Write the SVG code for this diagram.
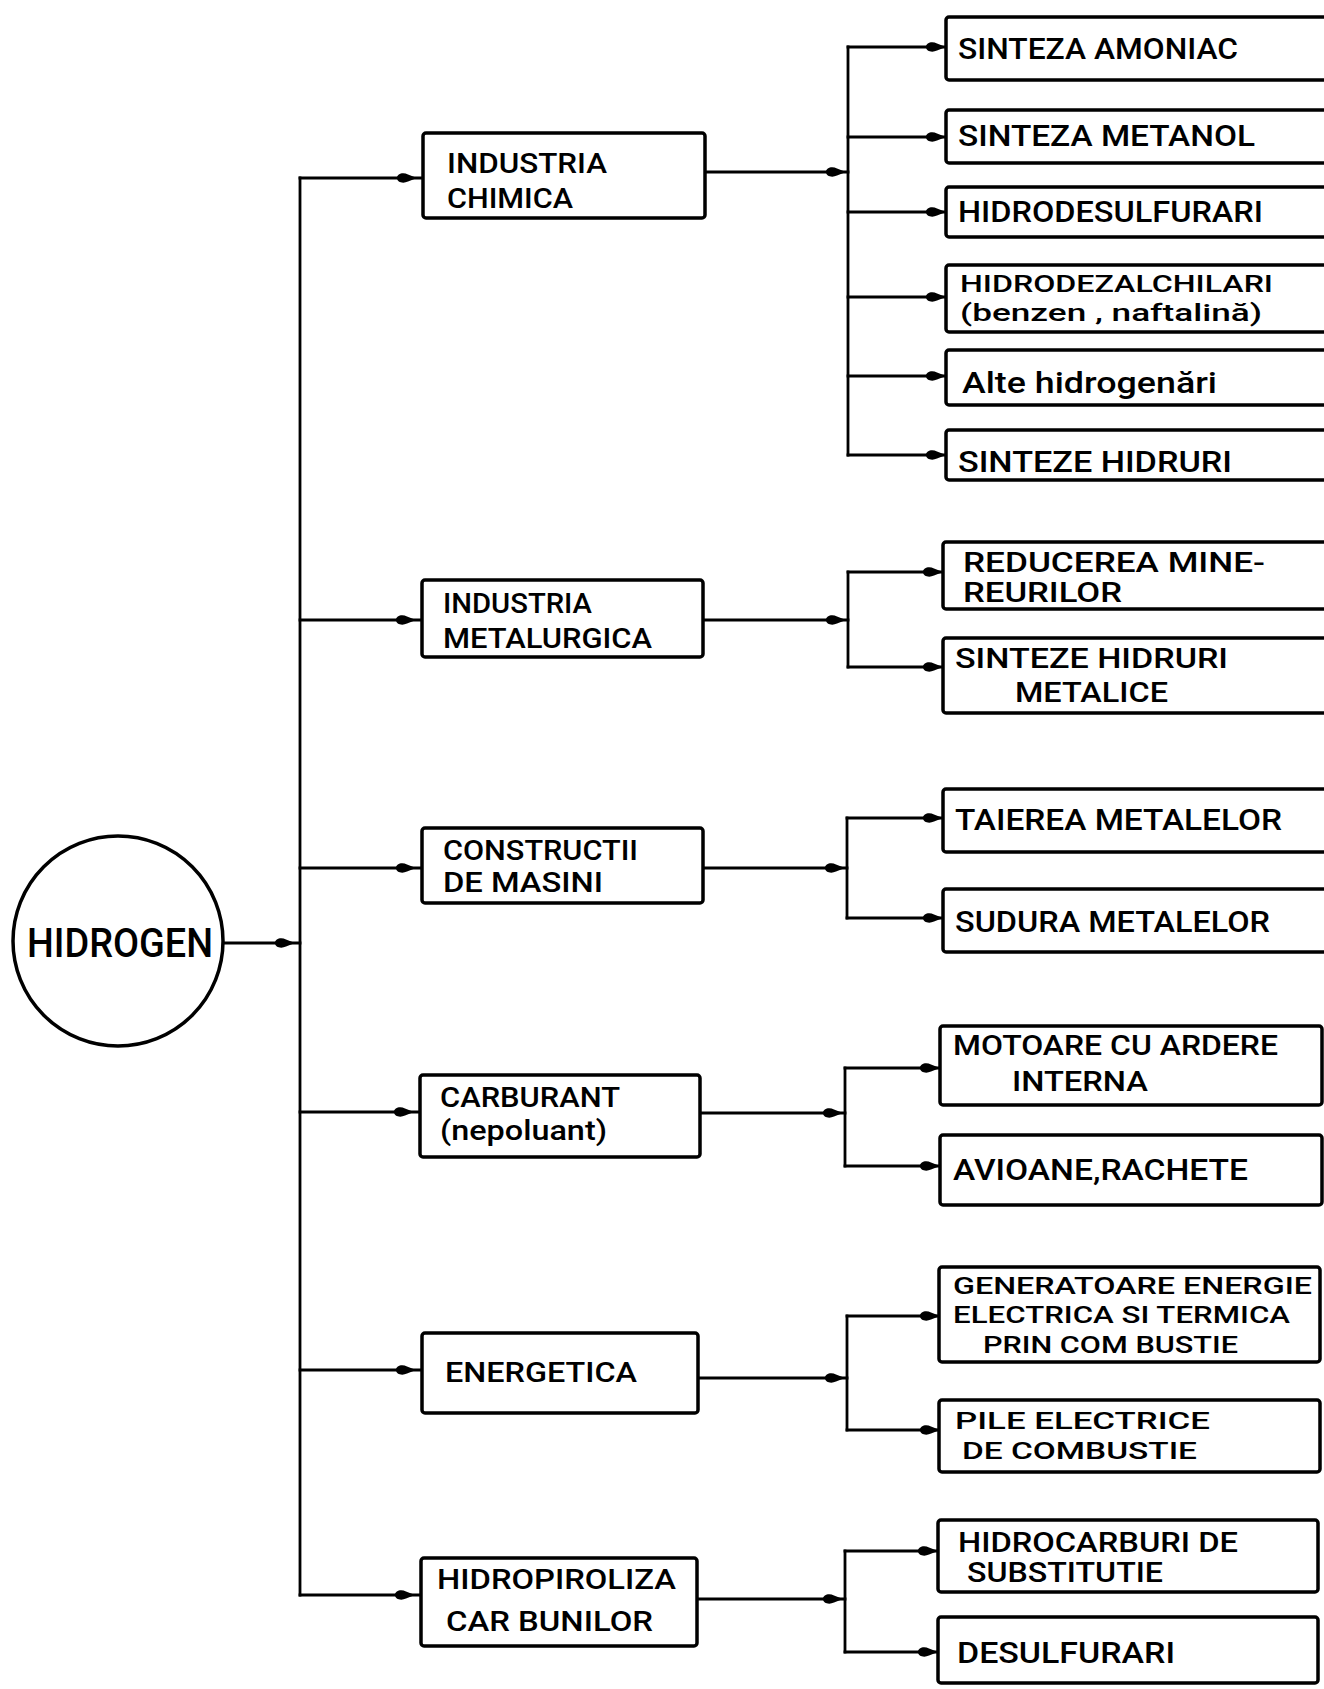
<svg xmlns="http://www.w3.org/2000/svg" xmlns:xlink="http://www.w3.org/1999/xlink" width="1324" height="1689" viewBox="0 0 1324 1689">
<style>
.bg{fill:#fff}
.box{fill:#fff;stroke:#000;stroke-width:3.5}
.ln{fill:none;stroke:#000;stroke-width:2.8;stroke-linecap:square}
.t{font-family:Roboto,"Liberation Sans",Arial,sans-serif;font-weight:500;fill:#000}
.m{font-size:28px}
.c{font-size:30px}
.c2{font-size:27px}
.c3{font-size:23px}
</style>
<defs>
<path id="ah" d="M1,0 L-8,-3.5 C-13,-6 -19,-4.2 -19,0 C-19,4.2 -13,6 -8,3.5 Z" fill="#000"/>
</defs>
<rect class="bg" x="0" y="0" width="1324" height="1689"/>

<g id="connectors">
  <!-- root to main bus -->
  <path class="ln" d="M223,943 H300"/>
  <use xlink:href="#ah" x="294" y="943"/>
  <path class="ln" d="M300,178 V1595"/>
  <!-- bus to middle boxes -->
  <path class="ln" d="M300,178 H423"/><use xlink:href="#ah" x="416" y="178"/>
  <path class="ln" d="M300,620 H422"/><use xlink:href="#ah" x="415" y="620"/>
  <path class="ln" d="M300,868 H422"/><use xlink:href="#ah" x="415" y="868"/>
  <path class="ln" d="M300,1112 H420"/><use xlink:href="#ah" x="413" y="1112"/>
  <path class="ln" d="M300,1370 H422"/><use xlink:href="#ah" x="415" y="1370"/>
  <path class="ln" d="M300,1595 H421"/><use xlink:href="#ah" x="414" y="1595"/>
  <!-- middle to sub-buses -->
  <path class="ln" d="M705,172 H848"/><use xlink:href="#ah" x="845" y="172"/>
  <path class="ln" d="M703,620 H848"/><use xlink:href="#ah" x="845" y="620"/>
  <path class="ln" d="M703,868 H847"/><use xlink:href="#ah" x="844" y="868"/>
  <path class="ln" d="M700,1113 H845"/><use xlink:href="#ah" x="842" y="1113"/>
  <path class="ln" d="M698,1378 H847"/><use xlink:href="#ah" x="844" y="1378"/>
  <path class="ln" d="M697,1599 H845"/><use xlink:href="#ah" x="842" y="1599"/>
  <!-- sub-bus: chemistry -->
  <path class="ln" d="M848,47 V455"/>
  <path class="ln" d="M848,47 H946"/><use xlink:href="#ah" x="945" y="47"/>
  <path class="ln" d="M848,137 H946"/><use xlink:href="#ah" x="945" y="137"/>
  <path class="ln" d="M848,212 H946"/><use xlink:href="#ah" x="945" y="212"/>
  <path class="ln" d="M848,297 H946"/><use xlink:href="#ah" x="945" y="297"/>
  <path class="ln" d="M848,376 H946"/><use xlink:href="#ah" x="945" y="376"/>
  <path class="ln" d="M848,455 H946"/><use xlink:href="#ah" x="945" y="455"/>
  <!-- sub-bus: metallurgy -->
  <path class="ln" d="M848,572 V667"/>
  <path class="ln" d="M848,572 H943"/><use xlink:href="#ah" x="942" y="572"/>
  <path class="ln" d="M848,667 H943"/><use xlink:href="#ah" x="942" y="667"/>
  <!-- sub-bus: machines -->
  <path class="ln" d="M847,818 V918"/>
  <path class="ln" d="M847,818 H943"/><use xlink:href="#ah" x="942" y="818"/>
  <path class="ln" d="M847,918 H943"/><use xlink:href="#ah" x="942" y="918"/>
  <!-- sub-bus: fuel -->
  <path class="ln" d="M845,1068 V1166"/>
  <path class="ln" d="M845,1068 H940"/><use xlink:href="#ah" x="939" y="1068"/>
  <path class="ln" d="M845,1166 H940"/><use xlink:href="#ah" x="939" y="1166"/>
  <!-- sub-bus: energy -->
  <path class="ln" d="M847,1316 V1430"/>
  <path class="ln" d="M847,1316 H940"/><use xlink:href="#ah" x="939" y="1316"/>
  <path class="ln" d="M847,1430 H940"/><use xlink:href="#ah" x="939" y="1430"/>
  <!-- sub-bus: hydropyrolysis -->
  <path class="ln" d="M845,1551 V1652"/>
  <path class="ln" d="M845,1551 H938"/><use xlink:href="#ah" x="937" y="1551"/>
  <path class="ln" d="M845,1652 H938"/><use xlink:href="#ah" x="937" y="1652"/>
</g>

<g id="hidrogen">
  <circle cx="118" cy="941" r="105" fill="#fff" stroke="#000" stroke-width="3.5"/>
  <text class="t" x="27" y="957" font-size="40" textLength="186" lengthAdjust="spacingAndGlyphs">HIDROGEN</text>
</g>

<g id="industria-chimica">
  <rect class="box" x="423" y="133" width="282" height="85" rx="3"/>
  <text class="t m" x="447" y="173" textLength="160" lengthAdjust="spacingAndGlyphs">INDUSTRIA</text>
  <text class="t m" x="447" y="208" textLength="126" lengthAdjust="spacingAndGlyphs">CHIMICA</text>
</g>
<g id="industria-metalurgica">
  <rect class="box" x="422" y="580" width="281" height="77" rx="3"/>
  <text class="t m" x="443" y="613" textLength="149" lengthAdjust="spacingAndGlyphs">INDUSTRIA</text>
  <text class="t m" x="443" y="648" textLength="209" lengthAdjust="spacingAndGlyphs">METALURGICA</text>
</g>
<g id="constructii-masini">
  <rect class="box" x="422" y="828" width="281" height="75" rx="3"/>
  <text class="t m" x="443" y="860" textLength="195" lengthAdjust="spacingAndGlyphs">CONSTRUCTII</text>
  <text class="t m" x="443" y="892" textLength="160" lengthAdjust="spacingAndGlyphs">DE MASINI</text>
</g>
<g id="carburant">
  <rect class="box" x="420" y="1075" width="280" height="82" rx="3"/>
  <text class="t m" x="440" y="1107" textLength="180" lengthAdjust="spacingAndGlyphs">CARBURANT</text>
  <text class="t m" x="440" y="1140" textLength="167" lengthAdjust="spacingAndGlyphs">(nepoluant)</text>
</g>
<g id="energetica">
  <rect class="box" x="422" y="1333" width="276" height="80" rx="3"/>
  <text class="t m" x="445" y="1382" textLength="192" lengthAdjust="spacingAndGlyphs">ENERGETICA</text>
</g>
<g id="hidropiroliza">
  <rect class="box" x="421" y="1558" width="276" height="88" rx="3"/>
  <text class="t m" x="437" y="1589" textLength="239" lengthAdjust="spacingAndGlyphs">HIDROPIROLIZA</text>
  <text class="t m" x="446" y="1631" textLength="207" lengthAdjust="spacingAndGlyphs">CAR BUNILOR</text>
</g>

<g id="sinteza-amoniac">
  <rect class="box" x="946" y="17" width="400" height="63" rx="3"/>
  <text class="t c" x="958" y="59" textLength="280" lengthAdjust="spacingAndGlyphs">SINTEZA AMONIAC</text>
</g>
<g id="sinteza-metanol">
  <rect class="box" x="946" y="110" width="400" height="53" rx="3"/>
  <text class="t c" x="958" y="146" textLength="297" lengthAdjust="spacingAndGlyphs">SINTEZA METANOL</text>
</g>
<g id="hidrodesulfurari">
  <rect class="box" x="946" y="187" width="400" height="50" rx="3"/>
  <text class="t c" x="958" y="222" textLength="305" lengthAdjust="spacingAndGlyphs">HIDRODESULFURARI</text>
</g>
<g id="hidrodezalchilari">
  <rect class="box" x="946" y="265" width="400" height="67" rx="3"/>
  <text class="t c3" x="960" y="292" textLength="313" lengthAdjust="spacingAndGlyphs">HIDRODEZALCHILARI</text>
  <text class="t c3" x="960" y="321" textLength="302" lengthAdjust="spacingAndGlyphs">(benzen , naftalină)</text>
</g>
<g id="alte-hidrogenari">
  <rect class="box" x="946" y="350" width="400" height="55" rx="3"/>
  <text class="t c" x="962" y="393" textLength="255" lengthAdjust="spacingAndGlyphs">Alte hidrogenări</text>
</g>
<g id="sinteze-hidruri">
  <rect class="box" x="946" y="430" width="400" height="50" rx="3"/>
  <text class="t c" x="958" y="472" textLength="274" lengthAdjust="spacingAndGlyphs">SINTEZE HIDRURI</text>
</g>

<g id="reducerea-minereurilor">
  <rect class="box" x="943" y="542" width="400" height="67" rx="3"/>
  <text class="t c2" x="963" y="572" textLength="302" lengthAdjust="spacingAndGlyphs">REDUCEREA MINE-</text>
  <text class="t c2" x="963" y="602" textLength="159" lengthAdjust="spacingAndGlyphs">REURILOR</text>
</g>
<g id="sinteze-hidruri-metalice">
  <rect class="box" x="943" y="638" width="400" height="75" rx="3"/>
  <text class="t c2" x="955" y="668" textLength="273" lengthAdjust="spacingAndGlyphs">SINTEZE HIDRURI</text>
  <text class="t c2" x="1015" y="702" textLength="153" lengthAdjust="spacingAndGlyphs">METALICE</text>
</g>

<g id="taierea-metalelor">
  <rect class="box" x="943" y="789" width="400" height="63" rx="3"/>
  <text class="t c" x="955" y="830" textLength="327" lengthAdjust="spacingAndGlyphs">TAIEREA METALELOR</text>
</g>
<g id="sudura-metalelor">
  <rect class="box" x="943" y="889" width="400" height="63" rx="3"/>
  <text class="t c" x="955" y="932" textLength="315" lengthAdjust="spacingAndGlyphs">SUDURA METALELOR</text>
</g>

<g id="motoare">
  <rect class="box" x="940" y="1026" width="382" height="79" rx="3"/>
  <text class="t c2" x="953" y="1055" textLength="325" lengthAdjust="spacingAndGlyphs">MOTOARE CU ARDERE</text>
  <text class="t c2" x="1012" y="1091" textLength="136" lengthAdjust="spacingAndGlyphs">INTERNA</text>
</g>
<g id="avioane">
  <rect class="box" x="940" y="1135" width="382" height="70" rx="3"/>
  <text class="t c" x="953" y="1180" textLength="295" lengthAdjust="spacingAndGlyphs">AVIOANE,RACHETE</text>
</g>

<g id="generatoare">
  <rect class="box" x="939" y="1267" width="381" height="95" rx="3"/>
  <text class="t c3" x="953" y="1294" textLength="359" lengthAdjust="spacingAndGlyphs">GENERATOARE ENERGIE</text>
  <text class="t c3" x="953" y="1323" textLength="337" lengthAdjust="spacingAndGlyphs">ELECTRICA SI TERMICA</text>
  <text class="t c3" x="983" y="1353" textLength="255" lengthAdjust="spacingAndGlyphs">PRIN COM BUSTIE</text>
</g>
<g id="pile-electrice">
  <rect class="box" x="939" y="1400" width="381" height="72" rx="3"/>
  <text class="t c3" x="955" y="1429" textLength="255" lengthAdjust="spacingAndGlyphs">PILE ELECTRICE</text>
  <text class="t c3" x="962" y="1459" textLength="235" lengthAdjust="spacingAndGlyphs">DE COMBUSTIE</text>
</g>

<g id="hidrocarburi">
  <rect class="box" x="938" y="1520" width="380" height="72" rx="3"/>
  <text class="t c2" x="958" y="1552" textLength="280" lengthAdjust="spacingAndGlyphs">HIDROCARBURI DE</text>
  <text class="t c2" x="967" y="1582" textLength="196" lengthAdjust="spacingAndGlyphs">SUBSTITUTIE</text>
</g>
<g id="desulfurari">
  <rect class="box" x="938" y="1617" width="380" height="66" rx="3"/>
  <text class="t c" x="957" y="1663" textLength="218" lengthAdjust="spacingAndGlyphs">DESULFURARI</text>
</g>
</svg>
